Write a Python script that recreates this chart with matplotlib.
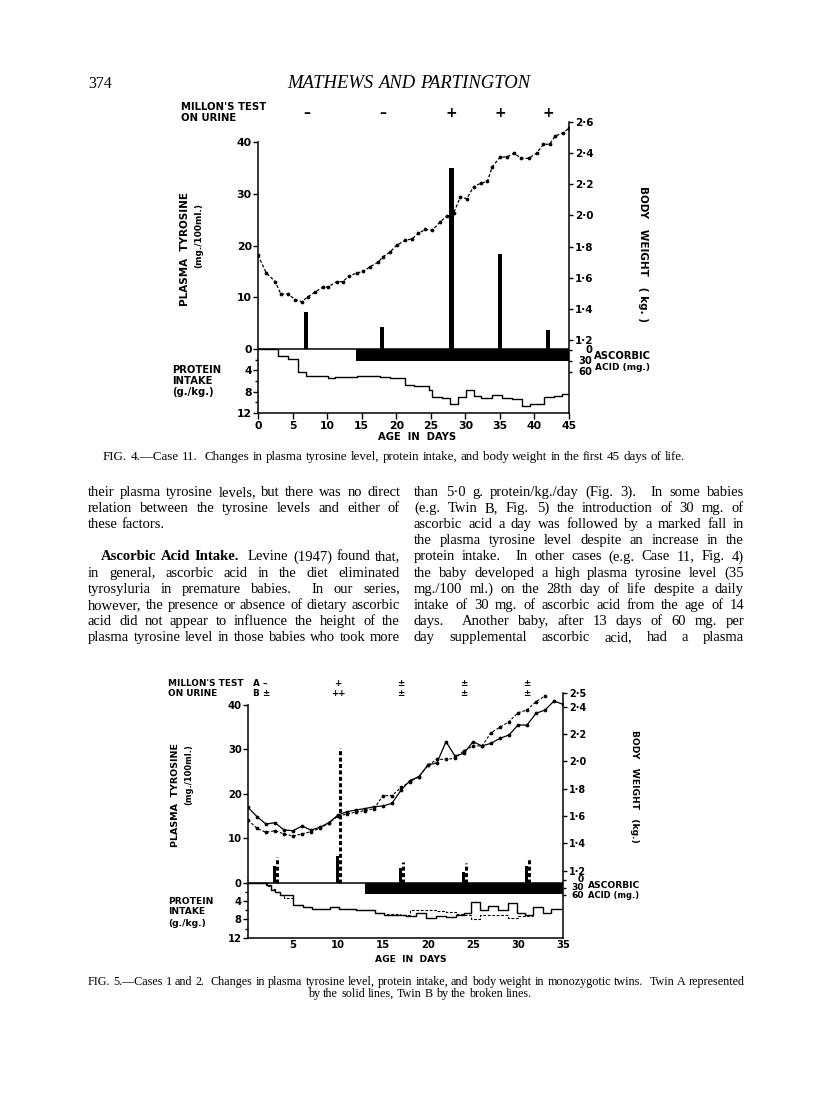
import numpy as np
import matplotlib
matplotlib.use("Agg")
import matplotlib.pyplot as plt
from matplotlib.transforms import blended_transform_factory as blend

W, H = 816, 1112
SERIF = "Liberation Serif"
SANS = "DejaVu Sans"
plt.rcParams["font.family"] = SANS
plt.rcParams["font.weight"] = "bold"

# --- Fig. 4: Case 11 ---
f4_wt_day = [0.0, 1.2, 2.5, 3.3, 4.3, 5.4, 6.3, 7.2, 8.3, 9.4, 10.1, 11.4, 12.3, 13.1, 14.3, 15.2,
             16.2, 17.4, 18.1, 19.1, 20.1, 21.3, 22.3, 23.2, 24.2, 25.2, 26.4, 27.3, 28.3, 29.3,
             30.2, 31.2, 32.2, 33.2, 33.9, 35.0, 36.1, 37.0, 38.1, 39.2, 40.3, 41.3, 42.2, 43.0,
             44.1, 45.0]
f4_wt_kg = [1.745, 1.63, 1.575, 1.495, 1.495, 1.46, 1.446, 1.476, 1.51, 1.54, 1.54, 1.575, 1.575,
            1.61, 1.63, 1.64, 1.67, 1.70, 1.735, 1.765, 1.81, 1.84, 1.85, 1.885, 1.91, 1.905, 1.96,
            1.995, 2.015, 2.12, 2.107, 2.185, 2.206, 2.22, 2.313, 2.373, 2.377, 2.40, 2.367, 2.367,
            2.40, 2.456, 2.458, 2.51, 2.53, 2.56]
f4_tyr_day = [7, 18, 28, 35, 42]
f4_tyr_val = [7.2, 4.3, 35.0, 18.4, 3.7]
f4_millon = ["–", "–", "+", "+", "+"]
f4_prot_edge = [0, 2.9, 4.3, 5.8, 7.0, 10.1, 11.2, 14.3, 17.7, 19.1, 21.2, 22.5, 24.7, 25.2, 26.6,
                27.8, 29.0, 30.1, 31.2, 32.2, 33.9, 35.3, 36.8, 38.2, 39.4, 41.4, 42.8, 44.0, 45.0]
f4_prot_val = [0, 1.3, 1.9, 4.3, 5.1, 5.5, 5.3, 5.1, 5.3, 5.5, 6.7, 7.0, 7.6, 9.0, 9.2, 10.3, 9.0,
               7.7, 8.8, 9.2, 8.6, 9.1, 9.4, 10.7, 10.3, 9.0, 8.8, 8.5]
f4_asc = (14.2, 45.0)

# --- Fig. 5: Cases 1 and 2 (twin A solid, twin B broken) ---
f5_day_a = list(range(0, 36))
f5_wt_a = [1.664, 1.596, 1.542, 1.552, 1.498, 1.493, 1.527, 1.498, 1.518, 1.552, 1.608, 1.632,
           1.645, 1.655, 1.669, 1.674, 1.694, 1.79, 1.86, 1.89, 1.974, 1.991, 2.145, 2.040, 2.060,
           2.145, 2.114, 2.133, 2.170, 2.194, 2.267, 2.267, 2.353, 2.377, 2.443, 2.419]
f5_day_b = list(range(0, 34))
f5_wt_b = [1.571, 1.51, 1.481, 1.493, 1.469, 1.455, 1.469, 1.486, 1.51, 1.55, 1.60, 1.615, 1.63,
           1.64, 1.655, 1.75, 1.75, 1.81, 1.852, 1.889, 1.974, 2.016, 2.016, 2.023, 2.079, 2.114,
           2.114, 2.211, 2.251, 2.292, 2.357, 2.377, 2.438, 2.480]
f5_tyr_day = [3, 10, 17, 24, 31]
f5_tyr_a = [3.7, 6.0, 3.3, 2.5, 3.7]
f5_tyr_b = [5.9, 30.2, 4.8, 4.4, 5.5]
f5_millon_day = [10, 17, 24, 31]
f5_millon_a = ["+", "±", "±", "±"]
f5_millon_b = ["++", "±", "±", "±"]
f5_prot_edge_a = [0, 2.1, 2.6, 3.0, 3.5, 5.0, 6.1, 7.1, 9.1, 10.1, 12.0, 14.1, 15.1, 16.9, 17.6,
                  18.7, 19.8, 20.9, 22.0, 23.1, 24.0, 24.8, 25.8, 26.7, 27.8, 28.9, 29.9, 30.8,
                  31.7, 32.8, 33.7, 35.0]
f5_prot_a = [0, 0.5, 1.5, 2.0, 2.6, 4.8, 5.3, 5.6, 5.3, 5.8, 6.0, 6.6, 7.0, 7.0, 7.2, 6.6, 7.7,
             7.3, 7.4, 7.0, 6.6, 4.1, 5.9, 5.1, 5.9, 4.3, 6.6, 7.0, 5.3, 6.6, 5.8]
f5_prot_edge_b = [0, 2.0, 2.5, 3.0, 3.5, 4.0, 5.0, 6.1, 7.1, 9.1, 10.1, 12.0, 14.1, 15.1, 16.9,
                  18.0, 20.9, 22.0, 23.1, 24.0, 24.8, 25.8, 28.9, 30.0, 31.7]
f5_prot_b = [0, 0.7, 1.4, 2.0, 2.6, 3.2, 4.8, 5.3, 5.6, 5.3, 5.6, 6.0, 6.6, 6.8, 7.0, 5.9, 6.2,
             6.4, 6.8, 7.0, 8.0, 7.0, 7.7, 7.2]
f5_asc = (13.0, 35.0)

asc_ticks = [0, 30, 60]
asc_labels = ["0", "30", "60"]

# --- page text ---
left_col = [
    "their plasma tyrosine levels, but there was no direct",
    "relation between the tyrosine levels and either of",
    "these factors.",
    None,
    "*Ascorbic *Acid *Intake.  Levine (1947) found that,",
    "in general, ascorbic acid in the diet eliminated",
    "tyrosyluria in premature babies.  In our series,",
    "however, the presence or absence of dietary ascorbic",
    "acid did not appear to influence the height of the",
    "plasma tyrosine level in those babies who took more",
]
right_col = [
    "than 5·0 g. protein/kg./day (Fig. 3).  In some babies",
    "(e.g. Twin B, Fig. 5) the introduction of 30 mg. of",
    "ascorbic acid a day was followed by a marked fall in",
    "the plasma tyrosine level despite an increase in the",
    "protein intake.  In other cases (e.g. Case 11, Fig. 4)",
    "the baby developed a high plasma tyrosine level (35",
    "mg./100 ml.) on the 28th day of life despite a daily",
    "intake of 30 mg. of ascorbic acid from the age of 14",
    "days.  Another baby, after 13 days of 60 mg. per",
    "day supplemental ascorbic acid, had a plasma",
]
cap4 = "FIG. 4.—Case 11.  Changes in plasma tyrosine level, protein intake, and body weight in the first 45 days of life."
cap5 = ["FIG. 5.—Cases 1 and 2.  Changes in plasma tyrosine level, protein intake, and body weight in monozygotic twins.  Twin A represented",
        "by the solid lines, Twin B by the broken lines."]

fig = plt.figure(figsize=(W / 100, H / 100), dpi=100)
fig.patch.set_facecolor("white")
R = fig.canvas.get_renderer()


def box(l, r, t, b):
    return [l / W, 1 - b / H, (r - l) / W, (b - t) / H]


def ftext(x, y, s, **kw):
    kw.setdefault("fontsize", 7)
    kw.setdefault("va", "center")
    return fig.text(x / W, 1 - y / H, s, **kw)


def split_words(text):
    words, gaps = [], []
    for tk in text.split(" "):
        if tk == "":
            if gaps:
                gaps[-1] += 1
            continue
        words.append(tk)
        gaps.append(1)
    gaps[-1] = 0
    return words, gaps


def word_widths(words, size, style):
    out = []
    for wd in words:
        t = fig.text(0, 0, wd.lstrip("*"), fontsize=size, family=SERIF, style=style,
                     weight="bold" if wd.startswith("*") else "normal")
        out.append(t.get_window_extent(R).width)
        t.remove()
    return out


def fit_size(text, width, style="normal"):
    words, gaps = split_words(text)
    nat = sum(word_widths(words, 10, style)) + sum(gaps) * 0.25 * 10 * 100 / 72
    return 10 * width / nat


def place_line(text, xl, xr, base, size, style="normal", justify=True, center=None):
    words, gaps = split_words(text)
    objs, widths = [], []
    for wd in words:
        t = fig.text(0, 1 - base / H, wd.lstrip("*"), fontsize=size, family=SERIF, style=style,
                     weight="bold" if wd.startswith("*") else "normal", va="baseline", ha="left")
        objs.append(t)
        widths.append(t.get_window_extent(R).width)
    if justify and len(words) > 1:
        unit = (xr - xl - sum(widths)) / sum(gaps)
    else:
        unit = size * 100 / 72 * 0.25
    x = xl
    if center is not None:
        x = center - (sum(widths) + sum(gaps) * unit) / 2
    for t, w, g in zip(objs, widths, gaps):
        t.set_x(x / W)
        x += w + g * unit


def chart(pos, xmax, t_lim, w_lim, w_top, asc_lim, k, xticks, xtick_len, fs):
    ax = fig.add_axes(box(*pos))
    ax.set_xlim(0, xmax)
    ax.set_ylim(*t_lim)
    ax.patch.set_visible(False)
    for s in ["top", "right"]:
        ax.spines[s].set_visible(False)
    ax.spines["left"].set_bounds(-12 * k, 40)
    ax.spines["left"].set_linewidth(1.1)
    ax.spines["bottom"].set_linewidth(1.1)
    ax.set_yticks([-12 * k, -8 * k, -4 * k, 0, 10, 20, 30, 40])
    ax.set_yticklabels(["12", "8", "4", "0", "10", "20", "30", "40"])
    ax.set_yticks([-10 * k, -6 * k, -2 * k], minor=True)
    ax.tick_params(axis="y", which="major", direction="out", length=3.5, width=1, pad=1, labelsize=fs)
    ax.tick_params(axis="y", which="minor", direction="out", length=2.5, width=1)
    ax.set_xticks(xticks)
    ax.set_xticklabels([str(v) for v in xticks])
    ax.tick_params(axis="x", direction="out", length=xtick_len, width=1, pad=2, labelsize=fs)
    ax.axhline(0, color="k", lw=1.1)

    ax2 = ax.twinx()
    ax2.set_ylim(*w_lim)
    for s in ["top", "left", "bottom"]:
        ax2.spines[s].set_visible(False)
    ax2.spines["right"].set_bounds(w_lim[0], w_top)
    ax2.spines["right"].set_linewidth(1.1)
    wt = np.round(np.arange(1.2, w_top + 0.01, 0.2), 1)
    if w_top not in wt:
        wt = np.append(wt, w_top)
    ax2.set_yticks(wt)
    ax2.set_yticklabels([f"{v:.1f}".replace(".", "·") for v in wt])
    ax2.tick_params(axis="y", direction="out", length=3, width=1, pad=1.5, labelsize=fs - 0.3)

    ax3 = ax.twinx()
    ax3.set_ylim(*asc_lim)
    for s in ax3.spines.values():
        s.set_visible(False)
    ax3.set_yticks(asc_ticks)
    ax3.set_yticklabels([])
    ax3.tick_params(axis="y", direction="out", length=2.5, width=1)
    return ax, ax2, ax3


# ---------------- header ----------------
place_line("374", 88, 107, 88, 11.5, justify=False)
place_line("MATHEWS AND PARTINGTON", 287, 530, 88,
           fit_size("MATHEWS AND PARTINGTON", 243, "italic"), style="italic")

# ---------------- Fig. 4 ----------------
k4 = 1.032
ax, ax2, ax3 = chart((258, 569, 121.5, 413.1), 45, (-12.4, 44.0), (0.7305, 2.6034), 2.6,
                     (172.1, -623.2), k4, list(range(0, 50, 5)), 4, 7.8)
ax.bar(f4_tyr_day, f4_tyr_val, width=0.6, color="k", zorder=3)
ax.step(f4_prot_edge, -k4 * np.append(f4_prot_val, f4_prot_val[-1]), where="post", color="k", lw=1.0)
ax.fill_between(f4_asc, 0, -2.35, color="k", lw=0, zorder=4)
ax2.plot(f4_wt_day, f4_wt_kg, color="k", lw=0.9, ls=(0, (2.5, 1.6)), marker="o", ms=1.7)
tr = blend(ax.transData, fig.transFigure)
for d, m in zip(f4_tyr_day, f4_millon):
    ax.text(d, 1 - 113 / H, m, transform=tr, ha="center", va="center", fontsize=10, fontweight="heavy")
tr3 = blend(fig.transFigure, ax3.transData)
for v, lab in zip(asc_ticks, asc_labels):
    ax3.text(592 / W, v, lab, transform=tr3, ha="right", va="center", fontsize=7.2)

ftext(181, 107, "MILLON'S TEST", ha="left", fontsize=7.3)
ftext(181, 118, "ON URINE", ha="left", fontsize=7.3)
ftext(185, 249, "PLASMA  TYROSINE", ha="center", rotation=90, fontsize=7.5)
ftext(199, 236, "(mg./100ml.)", ha="center", rotation=90, fontsize=6.5)
ftext(172, 370, "PROTEIN", ha="left", fontsize=7.2)
ftext(172, 381, "INTAKE", ha="left", fontsize=7.2)
ftext(172, 392, "(g./kg.)", ha="left", fontsize=7.2)
ftext(643, 254, "BODY   WEIGHT   ( kg. )", ha="center", rotation=-90, fontsize=7.5)
ftext(594, 356, "ASCORBIC", ha="left", fontsize=7.2)
ftext(595, 367, "ACID (mg.)", ha="left", fontsize=6.5)
ftext(417, 437, "AGE  IN  DAYS", ha="center", fontsize=7.2)
place_line(cap4, 103, 685, 460, fit_size(cap4, 582))

# ---------------- body text ----------------
full_lines = [(s, 312) for i, s in enumerate(left_col) if s and i != 2]
full_lines += [(s, 330) for s in right_col]
body_size = 0.99 * min(fit_size(s, w) for s, w in full_lines)
for i, line in enumerate(left_col):
    if line is None:
        continue
    indent = 13 if line.startswith("*") else 0
    place_line(line, 88 + indent, 400, 496 + i * 16.1, body_size, justify=(i != 2))
for i, line in enumerate(right_col):
    place_line(line, 414, 744, 496 + i * 16.1, body_size)

# ---------------- Fig. 5 ----------------
k5 = 1.022
bx, bx2, bx3 = chart((248, 563, 693.0, 937.7), 35, (-12.26, 42.6), (0.7092, 2.5018), 2.5,
                     (230.8, -748.0), k5, list(range(5, 40, 5)), 0, 7.2)
bx.bar(np.array(f5_tyr_day) - 0.1, f5_tyr_a, width=0.35, color="k", zorder=3)
bx.vlines(np.array(f5_tyr_day) + 0.25, 0, f5_tyr_b, color="k", lw=2.2, linestyles=(0, (1.3, 0.8)), zorder=3)
bx.step(f5_prot_edge_a, -k5 * np.append(f5_prot_a, f5_prot_a[-1]), where="post", color="k", lw=1.0)
bx.step(f5_prot_edge_b, -k5 * np.append(f5_prot_b, f5_prot_b[-1]), where="post", color="k", lw=0.8,
        ls=(0, (2.5, 1.5)))
bx.fill_between(f5_asc, 0, -2.45, color="k", lw=0, zorder=4)
bx2.plot(f5_day_a, f5_wt_a, color="k", lw=0.9, marker="o", ms=1.7)
bx2.plot(f5_day_b, f5_wt_b, color="k", lw=0.8, ls=(0, (2.5, 1.6)), marker="o", ms=1.7)
trb = blend(bx.transData, fig.transFigure)
for d, a, b in zip(f5_millon_day, f5_millon_a, f5_millon_b):
    bx.text(d, 1 - 683 / H, a, transform=trb, ha="center", va="center", fontsize=6.3)
    bx.text(d, 1 - 693 / H, b, transform=trb, ha="center", va="center", fontsize=6.3)
trb3 = blend(fig.transFigure, bx3.transData)
for v, lab in zip(asc_ticks, asc_labels):
    bx3.text(584 / W, v, lab, transform=trb3, ha="right", va="center", fontsize=6.6)

ftext(168, 683, "MILLON'S TEST", ha="left", fontsize=6.4)
ftext(168, 693, "ON URINE", ha="left", fontsize=6.4)
ftext(253, 683, "A –", ha="left", fontsize=6.4)
ftext(253, 693, "B ±", ha="left", fontsize=6.4)
ftext(176, 795, "PLASMA  TYROSINE", ha="center", rotation=90, fontsize=6.8)
ftext(189, 775, "(mg./100ml.)", ha="center", rotation=90, fontsize=6)
ftext(168, 901, "PROTEIN", ha="left", fontsize=6.6)
ftext(168, 912, "INTAKE", ha="left", fontsize=6.6)
ftext(168, 923, "(g./kg.)", ha="left", fontsize=6.6)
ftext(634, 786, "BODY   WEIGHT   (kg.)", ha="center", rotation=-90, fontsize=6.6)
ftext(588, 886, "ASCORBIC", ha="left", fontsize=6.6)
ftext(588, 896, "ACID (mg.)", ha="left", fontsize=6)
ftext(411, 959, "AGE  IN  DAYS", ha="center", fontsize=6.6)
cap5_size = fit_size(cap5[0], 657)
place_line(cap5[0], 88, 745, 985, cap5_size)
place_line(cap5[1], 0, 0, 997, cap5_size, justify=False, center=420)

fig.savefig("out.png", dpi=100, facecolor="white")
